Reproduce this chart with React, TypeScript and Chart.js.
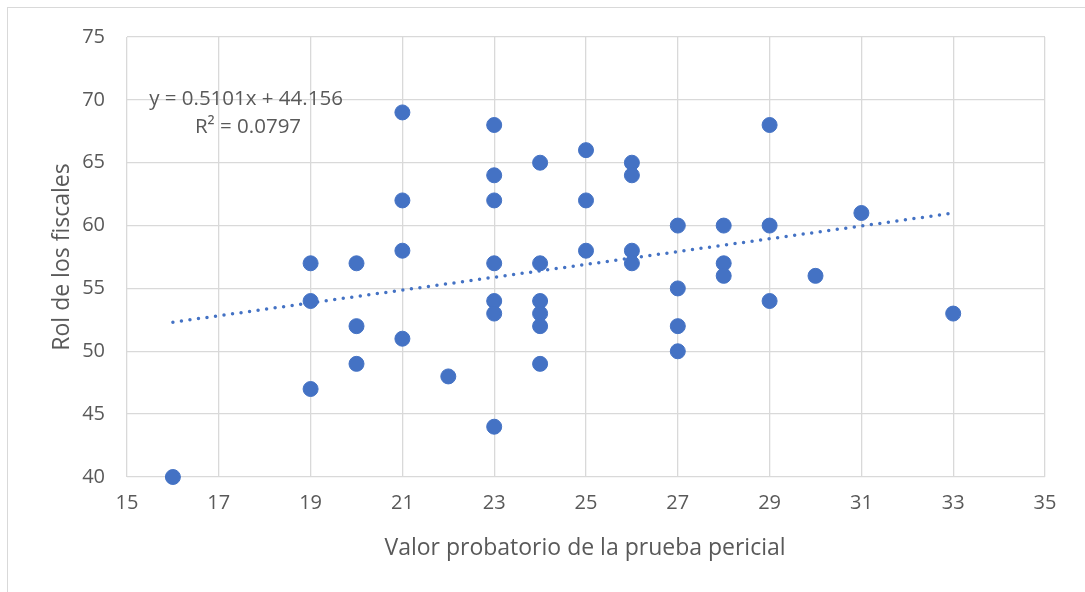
import React, { useEffect, useRef } from "react";
import { Chart, registerables } from "chart.js";

Chart.register(...registerables);

const xValues = [16, 19, 19, 19, 20, 20, 20, 21, 21, 21, 21, 22, 23, 23, 23, 23, 23, 23, 23, 24, 24, 24, 24, 24, 24, 25, 25, 25, 26, 26, 26, 26, 27, 27, 27, 27, 28, 28, 28, 29, 29, 29, 30, 31, 33];
const yValues = [40, 57, 54, 47, 57, 52, 49, 69, 62, 58, 51, 48, 68, 64, 62, 57, 54, 53, 44, 65, 57, 54, 53, 52, 49, 66, 62, 58, 65, 64, 58, 57, 60, 55, 52, 50, 60, 57, 56, 68, 60, 54, 56, 61, 53];
const trendSlope = 0.5101;
const trendIntercept = 44.156;
const trendRange = [16, 33];
const equationLabel = "y = 0.5101x + 44.156";
const r2Label = "R² = 0.0797";
const xTitle = "Valor probatorio de la prueba pericial";
const yTitle = "Rol de los fiscales";

const FONT = "'Open Sans', sans-serif";
const TEXT = "#595959";

export default function App() {
  const ref = useRef<HTMLCanvasElement>(null);
  useEffect(() => {
    const points = xValues.map((x, i) => ({ x, y: yValues[i] }));
    const trend = trendRange.map((x) => ({ x, y: trendSlope * x + trendIntercept }));
    const overlay = {
      id: "overlay",
      afterDraw(chart: any) {
        const ctx = chart.ctx;
        ctx.save();
        ctx.strokeStyle = "#d9d9d9";
        ctx.lineWidth = 1;
        ctx.strokeRect(7.5, 7.5, 1300, 900);
        ctx.fillStyle = TEXT;
        ctx.textAlign = "center";
        ctx.textBaseline = "middle";
        ctx.font = `20.5px ${FONT}`;
        ctx.fillText(equationLabel, 246, 99);
        ctx.fillText(r2Label, 248, 127);
        ctx.font = `23px ${FONT}`;
        ctx.fillText(xTitle, 585, 548);
        ctx.translate(62, 257);
        ctx.rotate(-Math.PI / 2);
        ctx.fillText(yTitle, 0, 0);
        ctx.restore();
      },
    };
    const chart = new Chart(ref.current!, {
      type: "scatter",
      data: {
        datasets: [
          {
            type: "line",
            data: trend,
            borderColor: "#4472C4",
            borderWidth: 3.5,
            borderDash: [0, 8.6],
            borderCapStyle: "round",
            pointRadius: 0,
            fill: false,
            order: 2,
          } as any,
          {
            data: points,
            backgroundColor: "#4472C4",
            borderColor: "#4472C4",
            pointRadius: 7.5,
            pointHoverRadius: 7.5,
            clip: false,
            order: 1,
          } as any,
        ],
      },
      options: {
        animation: false,
        responsive: false,
        layout: { padding: { top: 37, right: 40, left: 0, bottom: 0 } },
        plugins: { legend: { display: false }, tooltip: { enabled: false } },
        scales: {
          x: {
            type: "linear",
            min: 15,
            max: 35,
            afterFit: (s: any) => { s.height = 115; },
            ticks: { stepSize: 2, padding: 14, color: TEXT, font: { family: FONT, size: 20 } },
            grid: { color: "#d9d9d9", lineWidth: 1.3, drawTicks: false },
            border: { display: false },
          },
          y: {
            type: "linear",
            min: 40,
            max: 75,
            afterFit: (s: any) => { s.width = 127; },
            ticks: { stepSize: 5, padding: 22, color: TEXT, font: { family: FONT, size: 20 } },
            grid: { color: "#d9d9d9", lineWidth: 1.3, drawTicks: false },
            border: { display: false },
          },
        },
      },
      plugins: [overlay],
    });
    return () => chart.destroy();
  }, []);
  return (
    <div style={{ position: "fixed", left: 0, top: 0, width: 1085, height: 592, background: "#fff" }}>
      <canvas ref={ref} width={1085} height={592} style={{ width: 1085, height: 592 }} />
    </div>
  );
}
